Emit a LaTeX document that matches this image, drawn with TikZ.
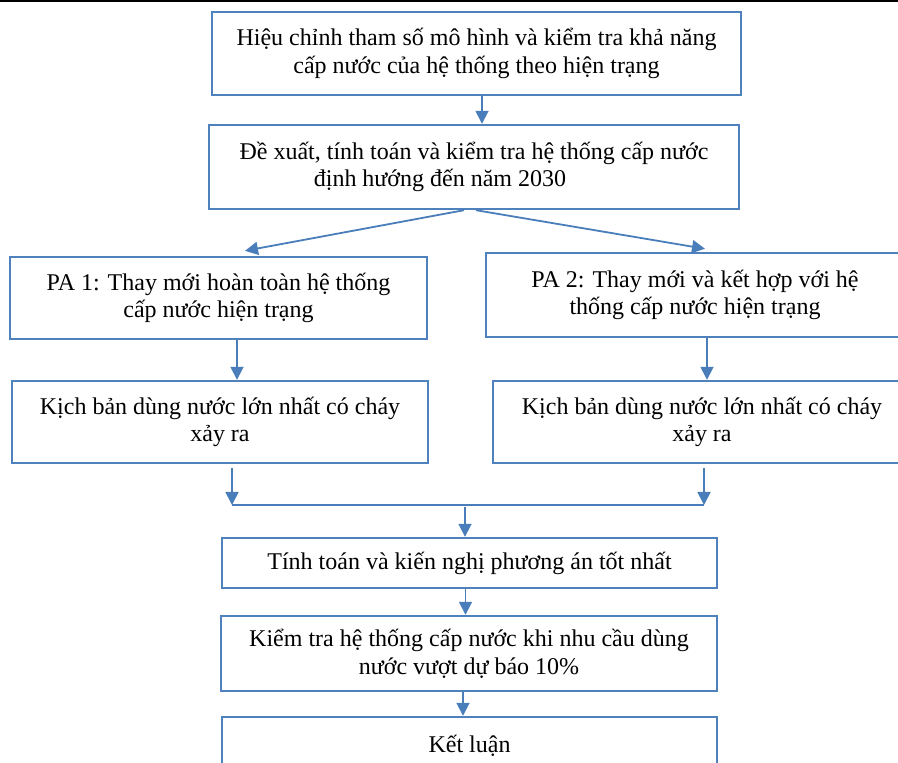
\documentclass[tikz,border=0pt]{standalone}
\usepackage{fontspec}
\setmainfont{Liberation Serif}
\usetikzlibrary{arrows.meta}
\definecolor{boxblue}{RGB}{79,129,189}
\definecolor{arrblue}{RGB}{74,126,187}

\begin{document}
\begin{tikzpicture}[x=0.5pt, y=-0.5pt]
\tikzstyle{box} = [draw=boxblue, line width=1.2pt, fill=white, rectangle, align=center, inner sep=2pt, font=\fontsize{12pt}{13.8pt}\selectfont]
\tikzstyle{arr} = [draw=arrblue, line width=0.9pt, -{Triangle[length=6.5pt,width=6.5pt]}]
\tikzstyle{ln} = [draw=arrblue, line width=0.9pt]

\clip (0,0) rectangle (898,763);
\fill[black] (0,0) rectangle (898,2.5);

\node[box, minimum width=264.5pt, minimum height=41.5pt] (hc) at (476.5,53.5) {Hiệu chỉnh tham số mô hình và kiểm tra khả năng\\cấp nước của hệ thống theo hiện trạng};
\node[box, minimum width=265pt, minimum height=42pt] (dx) at (474,167) {Đề xuất, tính toán và kiểm tra hệ thống cấp nước\\định hướng đến năm 2030\hbox to 34pt{}};

\node[box, minimum width=208.5pt, minimum height=41pt] (pa1) at (218.5,298) {PA 1: Thay mới hoàn toàn hệ thống\\cấp nước hiện trạng};
\node[box, minimum width=209pt, minimum height=42pt] (pa2) at (695,295) {PA 2: Thay mới và kết hợp với hệ\\thống cấp nước hiện trạng};

\node[box, minimum width=208pt, minimum height=41pt] (kb1) at (220,422) {Kịch bản dùng nước lớn nhất có cháy\\xảy ra};
\node[box, minimum width=209pt, minimum height=41pt] (kb2) at (702,422) {Kịch bản dùng nước lớn nhất có cháy\\xảy ra};

\node[box, minimum width=247.5pt, minimum height=25pt] (tt) at (469.5,563) {Tính toán và kiến nghị phương án tốt nhất};
\node[box, minimum width=248pt, minimum height=37.5pt] (kt) at (469,653.5) {Kiểm tra hệ thống cấp nước khi nhu cầu dùng\\nước vượt dự báo 10\%};
\node[box, minimum width=247.5pt, minimum height=29pt] (kl) at (469.5,746) {Kết luận};

\coordinate (jl) at (232,505);
\coordinate (jr) at (704,505);
\coordinate (jm) at (465,505);

\draw[arr] ([xshift=2.75pt]hc.south) -- ([xshift=2.75pt]hc.south |- dx.north);
\draw[arr] ([xshift=-5pt]dx.south) -- ([xshift=13.25pt,yshift=2.5pt]pa1.north);
\draw[arr] ([xshift=1pt]dx.south) -- ([xshift=5pt,yshift=1.5pt]pa2.north);
\draw[arr] ([xshift=9.25pt]pa1.south) -- ([xshift=9.25pt]pa1.south |- kb1.north);
\draw[arr] ([xshift=6pt]pa2.south) -- ([xshift=6pt]pa2.south |- kb2.north);
\draw[arr] ([xshift=6pt,yshift=-2pt]kb1.south) -- (jl);
\draw[arr] ([xshift=1pt,yshift=-2pt]kb2.south) -- (jr);
\draw[ln] (jl) -- (jr);
\draw[arr] ([yshift=-1pt]jm) -- (jm |- tt.north);
\draw[arr] ([xshift=-2pt]tt.south) -- ([xshift=-2pt]tt.south |- kt.north);
\draw[arr] ([xshift=-3pt]kt.south) -- ([xshift=-3pt]kt.south |- kl.north);
\end{tikzpicture}
\end{document}
